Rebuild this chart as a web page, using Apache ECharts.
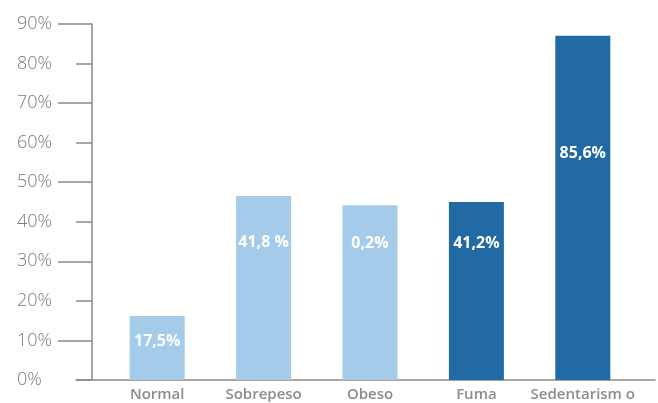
<!DOCTYPE html>
<html>
<head>
<meta charset="utf-8">
<script src="https://cdn.jsdelivr.net/npm/echarts@6/dist/echarts.min.js"></script>
<style>html,body{margin:0;padding:0;background:#fff}#c{width:658px;height:403px}</style>
</head>
<body>
<div id="c"></div>
<script>
const categories = ['Normal', 'Sobrepeso', 'Obeso', 'Fuma', 'Sedentarism o'];
const barValues = [16.2, 46.5, 44.2, 45.0, 87.0];
const barLabels = ['17,5%', '41,8 %', '0,2%', '41,2%', '85,6%'];
const yTickLabels = ['0%', '10%', '20%', '30%', '40%', '50%', '60%', '70%', '80%', '90%'];

const LIGHT = '#A4CBE9', DARK = '#216AA3';
const barColors = [LIGHT, LIGHT, LIGHT, DARK, DARK];
const labelGap = [18, 38, 30, 33, 110];
const AX = '#8a8a8a';

const chart = echarts.init(document.getElementById('c'), null, {renderer: 'canvas'});
chart.setOption({
  animation: false,
  grid: [
    {left: 104, right: 22, top: 24, bottom: 23},
    {left: 76, right: 3, top: 24, bottom: 23}
  ],
  xAxis: [
    {
      type: 'category', gridIndex: 0, data: categories,
      axisLine: {show: false}, axisTick: {show: false},
      axisLabel: {interval: 0, color: '#8c8c8c', fontSize: 15, fontWeight: 600, fontFamily: 'Open Sans', margin: 7}
    },
    {
      type: 'value', gridIndex: 1, min: 0, max: 1,
      axisLine: {show: true, lineStyle: {color: AX, width: 1.5}},
      axisTick: {show: false}, axisLabel: {show: false}, splitLine: {show: false}
    }
  ],
  yAxis: [
    {
      type: 'value', gridIndex: 0, min: 0, max: 90, interval: 10, offset: 12,
      axisLine: {show: true, lineStyle: {color: AX, width: 1.5}},
      axisTick: {show: true, length: 16, lineStyle: {color: AX, width: 1.5}, customValues: [0, 20, 40, 60, 80]},
      axisLabel: {
        align: 'left', margin: 75, color: '#7a7a7a', fontSize: 18, fontFamily: 'Open Sans', fontWeight: 300,
        formatter: v => yTickLabels[Math.round(v / 10)]
      },
      splitLine: {show: false}
    },
    {
      type: 'value', gridIndex: 0, min: 0, max: 90, interval: 10, offset: 12, position: 'left',
      axisLine: {show: false},
      axisTick: {show: true, length: 34, lineStyle: {color: AX, width: 1.5}, customValues: [10, 30, 50, 70, 90]},
      axisLabel: {show: false}, splitLine: {show: false}
    },
    {
      type: 'value', gridIndex: 1, min: 0, max: 1, show: false
    }
  ],
  series: [{
    type: 'bar', xAxisIndex: 0, yAxisIndex: 0, barWidth: 55,
    data: barValues.map((v, i) => ({
      value: v,
      itemStyle: {color: barColors[i]},
      label: {distance: labelGap[i]}
    })),
    label: {
      show: true, position: 'insideTop', color: '#fff', fontSize: 16, fontWeight: 'bold',
      fontFamily: 'Open Sans',
      formatter: p => barLabels[p.dataIndex]
    }
  }]
});
</script>
</body>
</html>
